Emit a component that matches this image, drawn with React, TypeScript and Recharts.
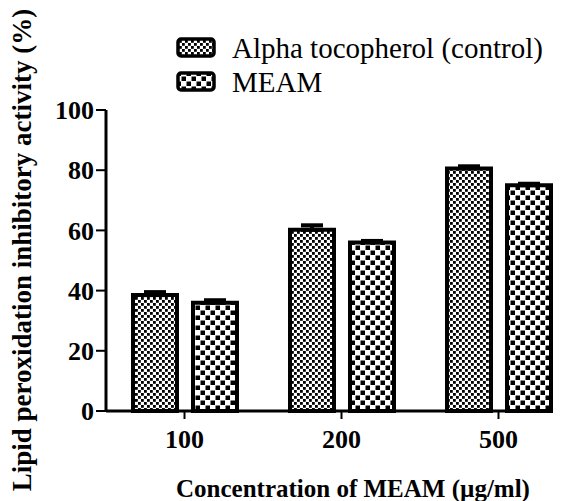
import { BarChart, Bar, XAxis, YAxis, ErrorBar } from "recharts";

const concentrations = ["100", "200", "500"];
const alphaValues = [38.5, 60.2, 80.6];
const alphaErrors = [1.0, 1.5, 0.7];
const meamValues = [36.0, 56.0, 75.0];
const meamErrors = [0.8, 0.5, 0.5];
const yTicks = [0, 20, 40, 60, 80, 100];

const data = concentrations.map((c, i) => ({
  conc: c,
  alpha: alphaValues[i],
  alphaErr: [0, alphaErrors[i]],
  meam: meamValues[i],
  meamErr: [0, meamErrors[i]],
}));

const serif = "'Liberation Serif', 'Times New Roman', serif";

const legendItems = [
  { label: "Alpha tocopherol (control)", fill: "url(#fineCheck)" },
  { label: "MEAM", fill: "url(#coarseCheck)" },
];

function ChartLegend() {
  return (
    <div style={{ position: "absolute", left: 176, top: 31, fontFamily: serif, fontSize: 29, color: "#000", lineHeight: "34px" }}>
      {legendItems.map((it) => (
        <div key={it.label} style={{ display: "flex", alignItems: "center", height: 34, whiteSpace: "nowrap" }}>
          <svg width={41} height={22} style={{ marginRight: 15 }}>
            <rect x={2} y={2} width={36} height={17} rx={3} fill={it.fill} stroke="#000" strokeWidth={3.5} />
          </svg>
          <span>{it.label}</span>
        </div>
      ))}
    </div>
  );
}

export default function App() {
  return (
    <div style={{ position: "absolute", left: 0, top: 0, width: 567, height: 501, background: "#fff" }}>
      <BarChart
        width={567}
        height={501}
        data={data}
        margin={{ top: 110, right: 15, bottom: 50, left: 0 }}
        barCategoryGap={27}
        barGap={16}
      >
        <defs>
          <pattern id="fineCheck" width={6} height={6} patternUnits="userSpaceOnUse">
            <rect width={6} height={6} fill="#fff" />
            <rect x={0} y={0} width={2.8} height={2.8} fill="#000" />
            <rect x={3} y={3} width={2.8} height={2.8} fill="#000" />
          </pattern>
          <pattern id="coarseCheck" width={10} height={10} patternUnits="userSpaceOnUse">
            <rect width={10} height={10} fill="#fff" />
            <rect x={0.5} y={0.5} width={4.5} height={4.5} fill="#000" />
            <rect x={5.5} y={5.5} width={4.5} height={4.5} fill="#000" />
          </pattern>
        </defs>
        <XAxis
          dataKey="conc"
          height={40}
          padding={{ left: 0, right: -25 }}
          axisLine={{ stroke: "#000", strokeWidth: 3 }}
          tickLine={{ stroke: "#000", strokeWidth: 2 }}
          tickSize={8}
          tickMargin={11}
          tick={{ fontFamily: serif, fontSize: 26, fontWeight: "bold", fill: "#000" }}
          label={{
            content: () => (
              <text x={353} y={497} textAnchor="middle" fontFamily={serif} fontSize={25} fontWeight="bold" fill="#000">
                Concentration of MEAM (µg/ml)
              </text>
            ),
          }}
        />
        <YAxis
          width={106}
          domain={[0, 100]}
          ticks={yTicks}
          interval={0}
          axisLine={{ stroke: "#000", strokeWidth: 3 }}
          tickLine={{ stroke: "#000", strokeWidth: 2 }}
          tickSize={10}
          tickMargin={2}
          tick={{ fontFamily: serif, fontSize: 26, fontWeight: "bold", fill: "#000" }}
          label={{
            content: () => (
              <text
                x={0}
                y={0}
                transform="translate(31, 250) rotate(-90)"
                textAnchor="middle"
                fontFamily={serif}
                fontSize={27}
                fontWeight="bold"
                fill="#000"
              >
                Lipid peroxidation inhibitory activity (%)
              </text>
            ),
          }}
        />
        <Bar dataKey="alpha" name="Alpha tocopherol (control)" fill="url(#fineCheck)" stroke="#000" strokeWidth={4} isAnimationActive={false}>
          <ErrorBar dataKey="alphaErr" width={11} stroke="#000" strokeWidth={4} direction="y" />
        </Bar>
        <Bar dataKey="meam" name="MEAM" fill="url(#coarseCheck)" stroke="#000" strokeWidth={4} isAnimationActive={false}>
          <ErrorBar dataKey="meamErr" width={11} stroke="#000" strokeWidth={4} direction="y" />
        </Bar>
      </BarChart>
      <ChartLegend />
    </div>
  );
}
